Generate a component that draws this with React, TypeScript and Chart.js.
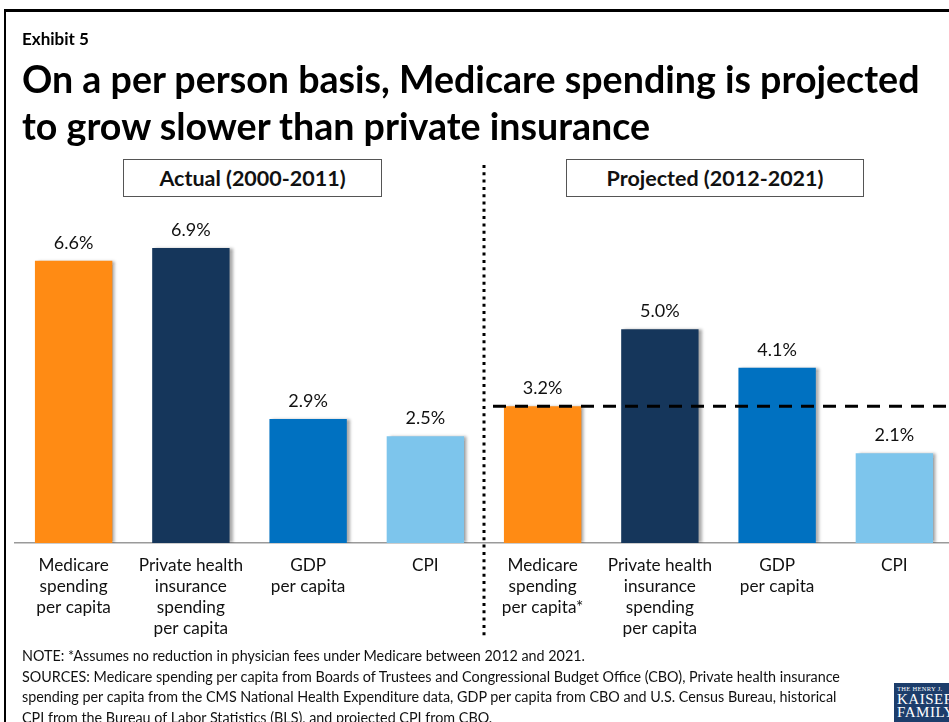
import React, { useEffect, useRef } from 'react';
import { Chart, registerables } from 'chart.js';

Chart.register(...registerables);

// ---------- data ----------
const categories: string[][] = [
  ['Medicare', 'spending', 'per capita'],
  ['Private health', 'insurance', 'spending', 'per capita'],
  ['GDP', 'per capita'],
  ['CPI'],
  ['Medicare', 'spending', 'per capita*'],
  ['Private health', 'insurance', 'spending', 'per capita'],
  ['GDP', 'per capita'],
  ['CPI'],
];
const growthRates = [6.6, 6.9, 2.9, 2.5, 3.2, 5.0, 4.1, 2.1];
const barColors = ['#FF8B14', '#15365B', '#0071C1', '#7DC5EC', '#FF8B14', '#15365B', '#0071C1', '#7DC5EC'];
const periodLabels = ['Actual (2000-2011)', 'Projected (2012-2021)'];
const referenceValue = 3.2; // projected Medicare growth, dashed line
const exhibitLabel = 'Exhibit 5';
const titleLines = ['On a per person basis, Medicare spending is projected', 'to grow slower than private insurance'];
const noteLines = [
  'NOTE: *Assumes no reduction in physician fees under Medicare between 2012 and 2021.',
  'SOURCES:  Medicare spending per capita from Boards of Trustees and Congressional Budget Office (CBO), Private health insurance',
  'spending per capita from the CMS National Health Expenditure data, GDP per capita from CBO and U.S. Census Bureau, historical',
  'CPI from the Bureau of Labor Statistics (BLS), and projected CPI from CBO.',
];

const FONT = 'Lato, "Open Sans", sans-serif';

const shadowPlugin = {
  id: 'barShadow',
  beforeDatasetsDraw(chart: any) {
    const ctx = chart.ctx;
    ctx.save();
    ctx.shadowColor = 'rgba(0,0,0,0.35)';
    ctx.shadowOffsetX = 3;
    ctx.shadowOffsetY = 0;
    ctx.shadowBlur = 3;
  },
  afterDatasetsDraw(chart: any) {
    chart.ctx.restore();
  },
};

const overlayPlugin = {
  id: 'overlay',
  afterDatasetsDraw(chart: any) {
    const ctx = chart.ctx;
    const x = chart.scales.x;
    const y = chart.scales.y;
    const area = chart.chartArea;
    const meta = chart.getDatasetMeta(0);
    // value labels
    ctx.save();
    ctx.fillStyle = '#111';
    ctx.font = `18px ${FONT}`;
    ctx.textAlign = 'center';
    ctx.textBaseline = 'alphabetic';
    meta.data.forEach((el: any, i: number) => {
      ctx.fillText(growthRates[i].toFixed(1) + '%', el.x, el.y - 12);
    });
    ctx.restore();

    // divider between actual and projected
    const divX = (x.getPixelForValue(3) + x.getPixelForValue(4)) / 2;
    ctx.save();
    ctx.strokeStyle = '#000';
    ctx.lineWidth = 3;
    ctx.setLineDash([3, 4.3]);
    ctx.beginPath();
    ctx.moveTo(divX, 165);
    ctx.lineTo(divX, 638);
    ctx.stroke();
    ctx.restore();

    // dashed reference line
    const refY = y.getPixelForValue(referenceValue);
    ctx.save();
    ctx.strokeStyle = '#000';
    ctx.lineWidth = 3;
    ctx.setLineDash([13, 9]);
    ctx.beginPath();
    ctx.moveTo(divX + 9, refY);
    ctx.lineTo(area.right + 20, refY);
    ctx.stroke();
    ctx.restore();
  },
};

export default function App() {
  const canvasRef = useRef<HTMLCanvasElement | null>(null);

  useEffect(() => {
    if (!canvasRef.current) return;
    const chart = new Chart(canvasRef.current, {
      type: 'bar',
      data: {
        labels: categories as any,
        datasets: [
          {
            data: growthRates,
            backgroundColor: barColors,
            borderWidth: 0,
            categoryPercentage: 1,
            barPercentage: 0.66,
          },
        ],
      },
      options: {
        animation: false,
        responsive: true,
        maintainAspectRatio: false,
        layout: { padding: { top: 201, left: 15, right: 7, bottom: 79 } },
        plugins: { legend: { display: false }, tooltip: { enabled: false }, title: { display: false } },
        scales: {
          y: { display: false, min: 0, max: 8 },
          x: {
            grid: { display: false },
            border: { display: true, color: '#9a9a9a', width: 1.5 },
            ticks: {
              color: '#111',
              padding: 4,
              maxRotation: 0,
              autoSkip: false,
              font: { family: FONT, size: 17.2, lineHeight: 1.22 },
            },
          },
        },
      },
      plugins: [shadowPlugin, overlayPlugin],
    });
    return () => chart.destroy();
  }, []);

  const boxStyle: React.CSSProperties = {
    position: 'absolute',
    top: 159,
    height: 38,
    boxSizing: 'border-box',
    border: '1px solid #555',
    background: '#fff',
    display: 'flex',
    alignItems: 'center',
    justifyContent: 'center',
    fontFamily: FONT,
    fontWeight: 700,
    fontSize: 21.5,
    color: '#111',
  };

  return (
    <div style={{ position: 'fixed', left: 0, top: 0, width: 949, height: 722, overflow: 'hidden', background: '#fff' }}>
      <div style={{ position: 'absolute', left: 0, top: 0, width: 960, height: 722 }}>
        <canvas ref={canvasRef} />
      </div>
      <div style={{ position: 'absolute', left: 4, top: 9, width: 1000, height: 800, borderTop: '3px solid #000', borderLeft: '2.5px solid #000', pointerEvents: 'none' }} />
      <div style={{ position: 'absolute', left: 22, top: 28, fontFamily: FONT, fontWeight: 700, fontSize: 17, color: '#000' }}>{exhibitLabel}</div>
      <div style={{ position: 'absolute', left: 22, top: 55, fontFamily: FONT, fontWeight: 700, fontSize: 37.6, lineHeight: '47px', color: '#000', whiteSpace: 'nowrap' }}>
        {titleLines.map((l, i) => (
          <div key={i}>{l}</div>
        ))}
      </div>
      <div style={{ ...boxStyle, left: 123, width: 259 }}>{periodLabels[0]}</div>
      <div style={{ ...boxStyle, left: 566, width: 298 }}>{periodLabels[1]}</div>
      <div style={{ position: 'absolute', left: 22, top: 646, fontFamily: FONT, fontSize: 14.35, lineHeight: '20.5px', color: '#111', whiteSpace: 'nowrap' }}>
        {noteLines.map((l, i) => (
          <div key={i}>{l}</div>
        ))}
      </div>
      <div style={{ position: 'absolute', left: 894, top: 683, width: 70, height: 50, background: '#1C3D6B', color: '#fff', fontFamily: '"Liberation Serif", "DejaVu Serif", serif', paddingLeft: 3, boxSizing: 'border-box' }}>
        <div style={{ fontSize: 6.5, lineHeight: '8px', marginTop: 2, letterSpacing: 0.3 }}>THE HENRY J.</div>
        <div style={{ fontSize: 15, lineHeight: '13px', letterSpacing: 0.5 }}>KAISER</div>
        <div style={{ fontSize: 15, lineHeight: '13px', letterSpacing: 0.5 }}>FAMILY</div>
        <div style={{ fontSize: 6.5, lineHeight: '9px', letterSpacing: 0.3 }}>FOUNDATION</div>
      </div>
    </div>
  );
}
